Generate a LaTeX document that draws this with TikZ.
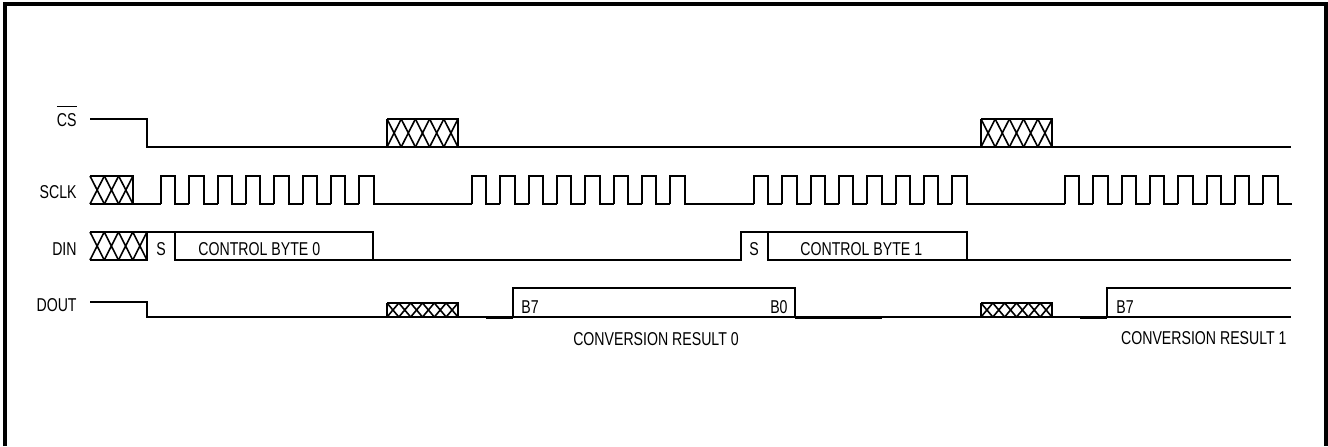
\documentclass[tikz,border=0pt]{standalone}
\usepackage{fontspec}
\setmainfont[FakeStretch=0.76]{Liberation Sans}
\usetikzlibrary{calc}

% crossed (don't care) cells: x0, x1, top, bottom, number of cells
\newcommand\xhatch[5]{%
\draw[sig] (#1,#3) -- (#2,#3) -- (#2,#4) -- (#1,#4);
\pgfmathsetmacro\cellw{(#2-#1)/#5}
\foreach \k in {1,...,#5}
  \draw[xline] ({#1+(\k-1)*\cellw},#3) -- ({#1+\k*\cellw},#4)
               ({#1+(\k-1)*\cellw},#4) -- ({#1+\k*\cellw},#3);
}
% eight clock pulses starting at x = #1
\newcommand\clkburst[1]{%
\foreach \k in {0,...,7}
  \draw[sig] ({#1+\k*28.35},204) -- ++(0,-28) -- ++(14.3,0) -- ++(0,28) -- ++(14.05,0);
}

\begin{document}
\begin{tikzpicture}[x=0.5pt,y=-0.5pt,inner sep=0pt,font=\fontsize{9.3}{11}\selectfont,
  sig/.style={line width=1pt},
  xline/.style={line width=0.8pt},
  heavy/.style={line width=1.5pt}]
\useasboundingbox (0,0) rectangle (1328,446);
\draw[line width=1.6pt] (5,446) -- (5,4) -- (1326,4) -- (1326,446);

% signal names
\node[anchor=base east] (lblcs) at (77,126) {$\overline{\mbox{\rule{0pt}{8.4pt}CS}}$};
\node[anchor=base east] (lblsclk) at (77,198) {SCLK};
\node[anchor=base east] (lbldin) at (77,255) {DIN};
\node[anchor=base east] (lbldout) at (77,311) {DOUT};

% CS
\draw[sig] (90,119) -- (147,119) -- (147,147) -- (387,147) -- (387,119);
\xhatch{387}{458}{119}{147}{5}
\draw[sig] (458,147) -- (981,147) -- (981,119);
\xhatch{981}{1052}{119}{147}{5}
\draw[sig] (1052,147) -- (1291,147);

% SCLK
\xhatch{90}{133}{176}{204}{3}
\draw[sig] (133,204) -- (161,204);
\foreach \s in {161,472,754,1065} {\clkburst{\s}}
\draw[sig] (373,204) -- (472,204);
\draw[sig] (684,204) -- (754,204);
\draw[sig] (966,204) -- (1065,204);

% DIN
\xhatch{90}{147}{232}{260}{4}
\draw[sig] (147,232) -- (373,232) -- (373,260);
\draw[sig] (175,232) -- (175,260) -- (741,260) -- (741,232) -- (967,232) -- (967,260);
\draw[sig] (768,232) -- (768,260) -- (1291,260);
\node[anchor=base] (sbit0) at (161,255) {S};
\node[anchor=base west] (ctrl0) at (198,255) {CONTROL BYTE 0};
\node[anchor=base] (sbit1) at (754,255) {S};
\node[anchor=base west] (ctrl1) at (800,255) {CONTROL BYTE 1};

% DOUT
\draw[sig] (90,302) -- (147,302) -- (147,317) -- (1291,317);
\draw[sig] (387,303) -- (387,317);
\xhatch{387}{458}{303}{317}{6}
\draw[sig] (981,303) -- (981,317);
\xhatch{981}{1052}{303}{317}{6}
\draw[sig] (513,317) -- (513,288) -- (795,288) -- (795,317);
\draw[sig] (1107,317) -- (1107,288) -- (1291,288);
\draw[heavy] (486,317) -- (513,317);
\draw[heavy] (795,317) -- (882,317);
\draw[heavy] (1080,317) -- (1107,317);
\node[anchor=base west] (b7a) at (521,313) {B7};
\node[anchor=base east] (b0a) at (788,313) {B0};
\node[anchor=base west] (b7b) at (1116,313) {B7};
\node[anchor=base] (res0) at (656,345) {CONVERSION RESULT 0};
\node[anchor=base east] (res1) at (1287,344) {CONVERSION RESULT 1};
\end{tikzpicture}
\end{document}
